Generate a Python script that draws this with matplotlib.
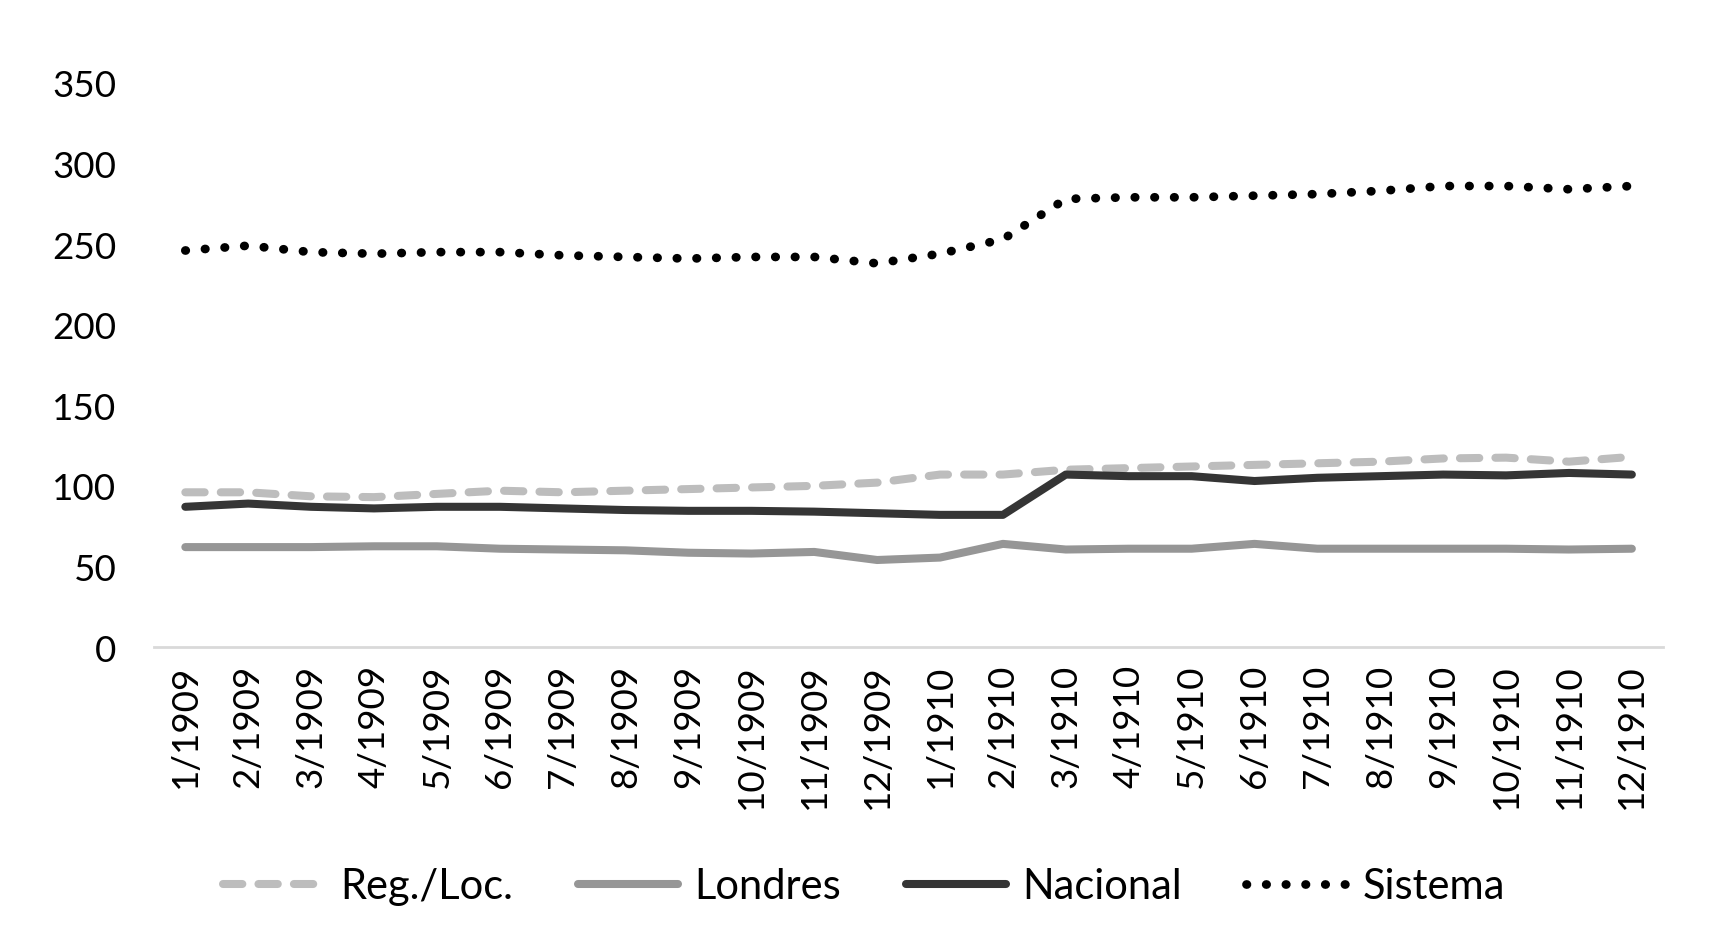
import matplotlib.pyplot as plt
import numpy as np

plt.rcParams['font.family'] = ['Lato', 'DejaVu Sans']

# meses
meses = ["1/1909", "2/1909", "3/1909", "4/1909", "5/1909", "6/1909",
         "7/1909", "8/1909", "9/1909", "10/1909", "11/1909", "12/1909",
         "1/1910", "2/1910", "3/1910", "4/1910", "5/1910", "6/1910",
         "7/1910", "8/1910", "9/1910", "10/1910", "11/1910", "12/1910"]

reg_loc = [96, 96, 93.5, 93, 95, 97, 96, 97, 98, 99, 100, 102,
           107, 107, 110, 111, 112, 113, 114, 115, 117, 117.5, 115, 118]
londres = [62, 62, 62, 62.5, 62.5, 61, 60.5, 60, 58.5, 58, 59, 54,
           55.5, 64, 60.5, 61, 61, 64, 61, 61, 61, 61, 60.5, 61]
nacional = [87, 89, 87, 86, 87, 87, 86, 85, 84.5, 84.5, 84, 83,
            82, 82, 107, 106, 106, 103, 105, 106, 107, 106.5, 108, 107]
sistema = [246, 249, 245, 244, 245, 245, 243, 242, 241, 242, 242, 238,
           244, 253, 278, 279, 279, 280, 281, 283, 286, 286, 284, 286]

fig = plt.figure(figsize=(17.29, 9.53), dpi=100)
ax = fig.add_axes([0.089, 0.320, 0.873, 0.592])

x = np.arange(len(meses))
lw = 5.8
ax.plot(x, reg_loc, color="#bdbdbd", lw=lw, linestyle=(0, (2.4, 2.0)),
        dash_capstyle="round", label="Reg./Loc.")
ax.plot(x, londres, color="#969696", lw=lw, solid_capstyle="round", label="Londres")
ax.plot(x, nacional, color="#353535", lw=lw, solid_capstyle="round", label="Nacional")
ax.plot(x, sistema, color="black", lw=6.3, linestyle=(0, (0.05, 2.2)),
        dash_capstyle="round", label="Sistema")

ax.set_xlim(-0.5, len(meses) - 0.5)
ax.set_ylim(0, 350)
ax.set_yticks(range(0, 351, 50))
ax.set_xticks(x)
ax.set_xticklabels(meses, rotation=90, fontsize=26.5)
ax.tick_params(axis='y', labelsize=26.5, length=0, pad=27)
ax.tick_params(axis='x', length=0, pad=12)

for s in ["top", "right", "left"]:
    ax.spines[s].set_visible(False)
ax.spines["bottom"].set_color("#d9d9d9")
ax.spines["bottom"].set_linewidth(2)

fig.legend(loc="center", bbox_to_anchor=(0.5, 0.069), ncol=4, frameon=False,
           fontsize=30, handlelength=2.4, columnspacing=1.55, handletextpad=0.4)

fig.savefig("out.png", dpi=100)
